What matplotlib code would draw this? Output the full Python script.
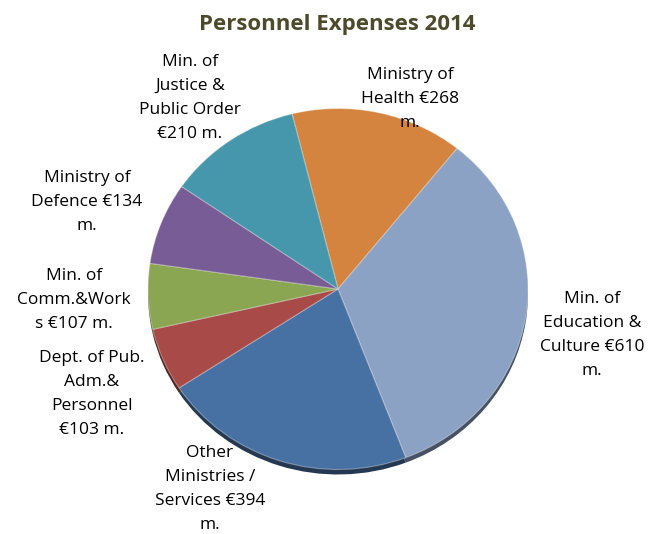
import matplotlib
matplotlib.use("Agg")
import matplotlib.pyplot as plt
import numpy as np
from matplotlib.colors import to_rgb

categories = ["Ministry of Health", "Min. of Education & Culture", "Other Ministries / Services",
              "Dept. of Pub. Adm.& Personnel", "Min. of Comm.&Works", "Ministry of Defence",
              "Min. of Justice & Public Order"]
values = [268, 610, 394, 103, 107, 134, 210]
labels = ["Ministry of\nHealth €268\nm.",
          "Min. of\nEducation &\nCulture €610\nm.",
          "Other\nMinistries /\nServices €394\nm.",
          "Dept. of Pub.\nAdm.&\nPersonnel\n€103 m.",
          "Min. of\nComm.&Work\ns €107 m.",
          "Ministry of\nDefence €134\nm.",
          "Min. of\nJustice &\nPublic Order\n€210 m."]
colors = ["#D4843F", "#8CA2C5", "#4770A3", "#A84A48", "#8BA652", "#785C95", "#4697AB"]
label_pos = [(410, 99), (592, 335), (210, 489), (92, 394), (74, 300), (87, 202), (190, 98)]

W, H = 648, 534
fig = plt.figure(figsize=(W / 100, H / 100), dpi=100)
ax = fig.add_axes([0, 0, 1, 1])
sy = 0.95
cx, cy_px, r = 338, 289, 190
cy = (H - cy_px) / sy

def darken(c, f):
    return tuple(np.array(to_rgb(c)) * f)

# 3D rim (shadow pie)
ax.pie(values, colors=[darken(c, 0.5) for c in colors], startangle=104, counterclock=False,
       radius=r, center=(cx, cy - 5 / sy), wedgeprops=dict(linewidth=0), frame=True)
ax.pie(values, colors=colors, startangle=104, counterclock=False, radius=r, center=(cx, cy),
       wedgeprops=dict(linewidth=0.8, edgecolor=(1, 1, 1, 0.35)), frame=True)
ax.set_aspect("auto")
ax.set_xlim(0, W)
ax.set_ylim(0, H / sy)
ax.axis("off")

font = "Open Sans"
for lab, (x, y) in zip(labels, label_pos):
    fig.text(x / W, 1 - y / H, lab, ha="center", va="center", fontsize=12.5,
             family=font, color="#000000", linespacing=1.65, multialignment="center")

fig.text(337 / W, 1 - 30 / H, "Personnel Expenses 2014", ha="center", va="baseline",
         fontsize=16, fontweight="bold", family=font, color="#4D4A2C")

fig.savefig("out.png", dpi=100)
